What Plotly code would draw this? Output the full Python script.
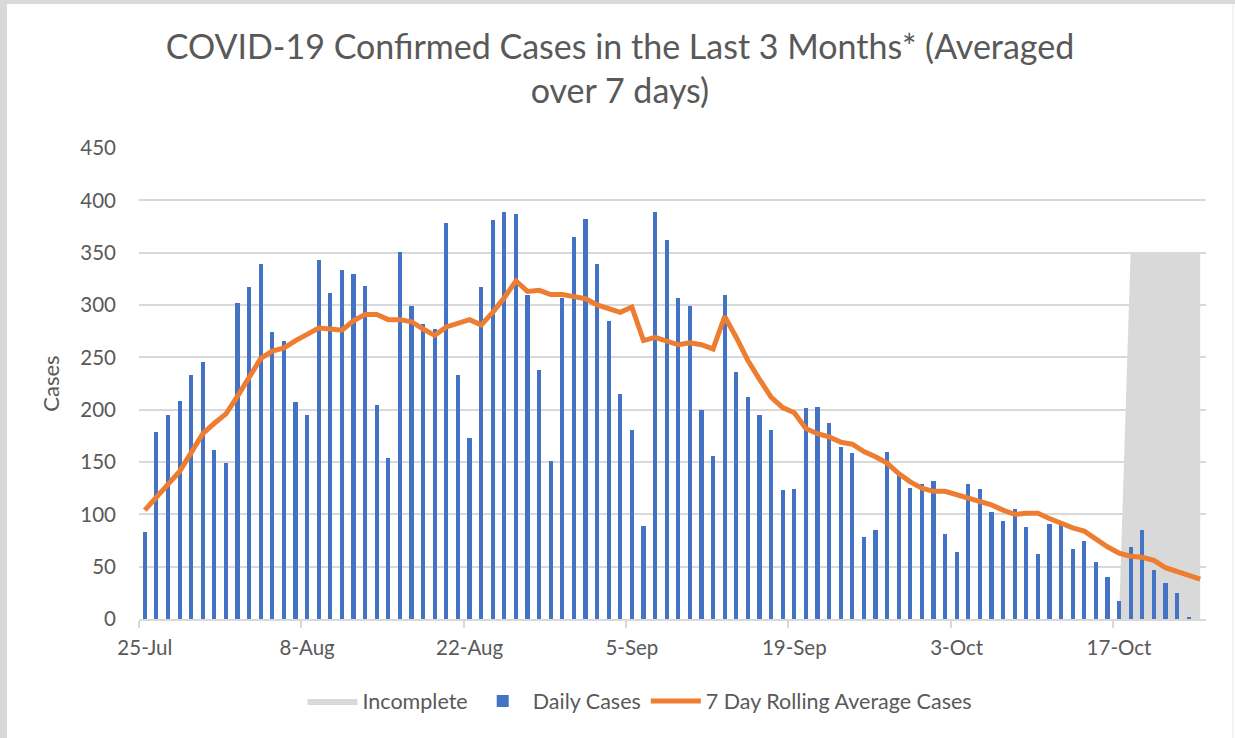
import datetime as dt
import plotly.graph_objects as go

# ---- data ----
start_date = dt.date(2020, 7, 25)
daily_cases = [
    83, 179, 195, 208, 233, 246, 161, 149, 302, 317,
    339, 274, 266, 207, 195, 343, 311, 333, 330, 318,
    204, 154, 351, 299, 282, 277, 378, 233, 173, 317,
    381, 389, 387, 310, 238, 151, 307, 365, 382, 339,
    285, 215, 181, 89, 389, 362, 307, 299, 200, 156,
    310, 236, 212, 195, 181, 123, 124, 202, 203, 187,
    164, 159, 78, 85, 160, 138, 125, 129, 132, 81,
    64, 129, 124, 102, 94, 105, 88, 62, 91, 92,
    67, 75, 54, 40, 17, 69, 85, 47, 34, 25,
    1, 0,
]
rolling_avg = [
    104, 116, 129, 141, 159, 177, 187, 196, 213, 230,
    249, 256, 259, 266, 272, 278, 277, 276, 285, 291,
    291, 286, 286, 284, 277, 271, 279, 283, 286, 281,
    293, 307, 323, 313, 314, 310, 310, 308, 306, 300,
    296, 293, 298, 266, 269, 266, 262, 264, 262, 258,
    289, 269, 247, 229, 212, 202, 197, 182, 177, 174,
    169, 167, 160, 155, 149, 139, 131, 125, 122, 122,
    119, 115, 112, 109, 104, 100, 101, 101, 96, 91,
    87, 84, 76, 69, 63, 60, 59, 56, 49, 45,
    41, 38,
]
incomplete = [None] * 84 + [0] + [350] * 7
tick_dates = ["2020-07-25", "2020-08-08", "2020-08-22", "2020-09-05",
              "2020-09-19", "2020-10-03", "2020-10-17"]
tick_labels = ["25-Jul", "8-Aug", "22-Aug", "5-Sep", "19-Sep", "3-Oct", "17-Oct"]
y_ticks = [0, 50, 100, 150, 200, 250, 300, 350, 400, 450]

dates = [start_date + dt.timedelta(days=i) for i in range(len(daily_cases))]

FONT = "Lato"
GREY_TXT = "#595959"
GRID = "#d9d9d9"

fig = go.Figure()
fig.add_trace(go.Scatter(
    x=dates, y=incomplete, name="Incomplete", mode="lines",
    line=dict(width=0, color="#d9d9d9"), fill="tozeroy", fillcolor="#d9d9d9",
    yaxis="y", hoverinfo="skip",
))
fig.add_trace(go.Bar(
    x=dates, y=daily_cases, name="Daily Cases", marker_color="#4472C4",
    marker_line_width=0, width=0.36 * 86400000, yaxis="y2",
))
fig.add_trace(go.Scatter(
    x=dates, y=rolling_avg, name="7 Day Rolling Average Cases", mode="lines",
    line=dict(color="#ED7D31", width=5), yaxis="y2",
))

minor_ticks = [dt.datetime.fromisoformat(d) - dt.timedelta(hours=12) for d in tick_dates]

W, H = 1235, 738
L, R, T, B = 139, 29, 148, 119
pw, ph = W - L - R, H - T - B

fig.update_layout(
    width=W, height=H,
    margin=dict(l=L, r=R, t=T, b=B, autoexpand=False),
    paper_bgcolor="white", plot_bgcolor="white",
    font=dict(family=FONT, color=GREY_TXT, size=20),
    title=dict(
        text="COVID-19 Confirmed Cases in the Last 3 Months* (Averaged<br>over 7 days)",
        x=0.502, xref="container", xanchor="center",
        y=1 - 59 / H, yref="container", yanchor="middle",
        font=dict(family=FONT, size=34, color=GREY_TXT),
    ),
    showlegend=True,
    legend=dict(
        orientation="h", x=(640 - L) / pw, xanchor="center",
        y=(0 - (701 - (T + ph))) / ph, yanchor="middle",
        font=dict(family=FONT, size=21.5, color=GREY_TXT),
        traceorder="normal", itemwidth=50,
    ),
    bargap=0,
    xaxis=dict(
        type="date",
        range=[dt.datetime(2020, 7, 24, 12), dt.datetime(2020, 10, 24, 12)],
        tickvals=tick_dates, ticktext=tick_labels,
        ticks="", showgrid=False, zeroline=False,
        showline=True, linecolor=GRID, linewidth=1.5,
        tickfont=dict(family=FONT, size=20.5, color=GREY_TXT),
        ticklabelstandoff=10,
        minor=dict(tickvals=minor_ticks, ticks="outside", ticklen=7,
                   tickcolor=GRID, tickwidth=1.5, showgrid=False),
    ),
    yaxis=dict(
        range=[0, 450], tickvals=y_ticks, showgrid=True, gridcolor=GRID,
        gridwidth=1.5, zeroline=False, showline=False, ticks="",
        tickfont=dict(family=FONT, size=20.5, color=GREY_TXT),
        ticklabelstandoff=22,
        title=dict(text="Cases", font=dict(family=FONT, size=22, color=GREY_TXT),
                   standoff=14),
    ),
    yaxis2=dict(
        range=[0, 450], overlaying="y", visible=False, showgrid=False,
        zeroline=False,
    ),
    shapes=[
        dict(type="rect", xref="paper", yref="paper",
             x0=-L / pw, x1=(-L + 7) / pw, y0=-B / ph, y1=1 + T / ph,
             fillcolor="#d9d9d9", line_width=0, layer="below"),
        dict(type="rect", xref="paper", yref="paper",
             x0=-L / pw, x1=1 + R / pw, y0=1 + (T - 4) / ph, y1=1 + T / ph,
             fillcolor="#d9d9d9", line_width=0, layer="below"),
        dict(type="line", xref="paper", yref="paper",
             x0=1 + (R - 2) / pw, x1=1 + (R - 2) / pw, y0=-B / ph, y1=1 + (T - 4) / ph,
             line=dict(color="#e6e6e6", width=1), layer="below"),
    ],
)

fig.write_html("out.html", config={"displayModeBar": False},
               post_script="document.body.style.margin='0';")
